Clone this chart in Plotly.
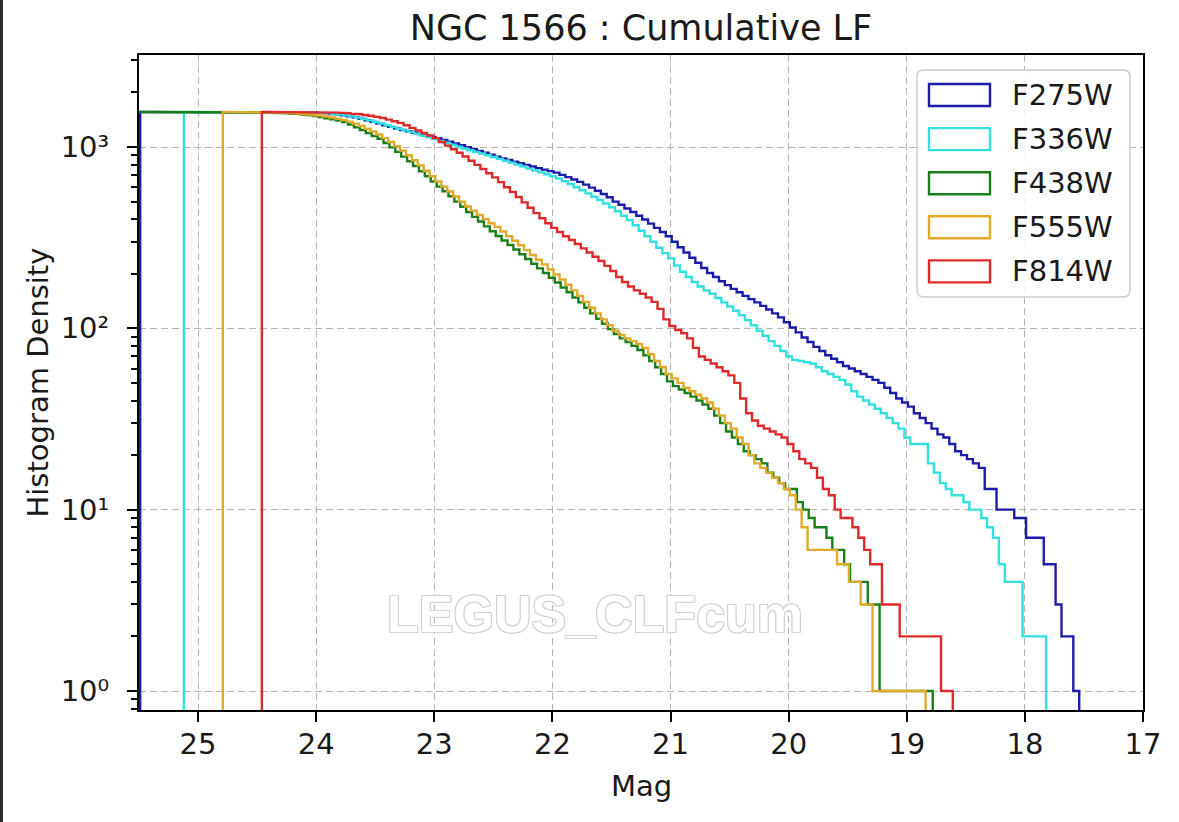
import numpy as np
import plotly.graph_objects as go

# ---------------------------------------------------------------------------
# Cumulative luminosity functions of the NGC 1566 cluster catalogue
# (cumulative counts per 0.05-mag bin, faint -> bright)
# ---------------------------------------------------------------------------
FILTERS = ["F275W", "F336W", "F438W", "F555W", "F814W"]

# faint and bright histogram edges (mag) for each filter
FAINT_EDGE = [25.49, 25.12, 25.53, 24.79, 24.46]
BRIGHT_EDGE = [17.54, 17.82, 18.78, 18.84, 18.61]

F275W_COUNTS = [
    1560, 1560, 1560, 1560, 1560, 1560, 1560, 1560, 1560, 1560,
    1560, 1560, 1560, 1560, 1559, 1559, 1559, 1558, 1558, 1558,
    1557, 1557, 1556, 1556, 1555, 1554, 1553, 1552, 1550, 1548,
    1543, 1535, 1525, 1512, 1496, 1478, 1456, 1432, 1405, 1376,
    1346, 1318, 1292, 1266, 1242, 1219, 1198, 1178, 1158, 1138,
    1117, 1094, 1070, 1046, 1022, 998, 974, 951, 929, 907,
    885, 866, 848, 831, 814, 797, 781, 765, 750, 736,
    722, 702, 682, 662, 642, 620, 597, 574, 551, 528,
    500, 480, 458, 438, 418, 398, 378, 358, 340, 322,
    300, 280, 262, 245, 230, 215, 202, 192, 182, 173,
    165, 158, 151, 145, 139, 133, 127, 121, 115, 108,
    101, 95, 89, 84, 79, 75, 71, 68, 65, 62,
    60, 58, 56, 54, 52, 50, 47, 44, 41, 39,
    37, 34, 32, 30, 28, 26, 25, 23, 21, 20,
    19, 18, 17, 13, 13, 10, 10, 10, 9, 9,
    7, 7, 7, 5, 5, 3, 2, 2, 1,
]

F336W_COUNTS = [
    1560, 1560, 1560, 1560, 1560, 1560, 1560, 1560, 1560, 1560,
    1560, 1560, 1559, 1559, 1558, 1558, 1557, 1556, 1555, 1554,
    1552, 1550, 1547, 1542, 1535, 1525, 1512, 1495, 1475, 1452,
    1428, 1402, 1375, 1347, 1318, 1290, 1262, 1235, 1208, 1183,
    1155, 1130, 1105, 1080, 1055, 1030, 1005, 982, 960, 940,
    920, 900, 880, 860, 840, 820, 800, 780, 760, 742,
    725, 708, 690, 670, 648, 625, 600, 578, 555, 532,
    510, 488, 465, 442, 418, 395, 370, 345, 322, 300,
    278, 260, 243, 222, 205, 192, 180, 170, 162, 155,
    147, 139, 132, 125, 118, 111, 104, 97, 91, 85,
    80, 75, 70, 67, 66, 65, 64, 61, 58, 56,
    54, 52, 49, 45, 42, 40, 38, 36, 34, 32,
    30, 28, 25, 23, 23, 23, 18, 16, 14, 13,
    12, 12, 11, 10, 10, 9, 8, 7, 5, 4,
    4, 4, 2, 2, 2, 2,
]

F438W_COUNTS = [
    1560, 1560,
    1560, 1560, 1560, 1560, 1560, 1560, 1560, 1560, 1560, 1560,
    1560, 1560, 1559, 1559, 1558, 1557, 1556, 1555, 1553, 1551,
    1548, 1545, 1540, 1534, 1527, 1518, 1507, 1494, 1480, 1463,
    1442, 1420, 1398, 1375, 1330, 1285, 1240, 1195, 1150, 1110,
    1052, 995, 940, 885, 835, 785, 735, 690, 645, 605,
    570, 535, 500, 468, 438, 412, 388, 365, 343, 323,
    305, 288, 272, 256, 241, 227, 214, 202, 190, 179,
    168, 158, 148, 139, 130, 121, 113, 106, 99, 93,
    88, 84, 80, 76, 71, 66, 61, 56, 51, 48,
    46, 44, 42, 40, 38, 36, 33, 30, 27, 25,
    23, 21, 20, 19, 18, 16, 15, 14, 13, 13,
    11, 10, 9, 8, 8, 7, 6, 6, 5, 4,
    4, 4, 3, 3, 1, 1, 1, 1, 1, 1,
    1, 1, 1,
]

F555W_COUNTS = [
    1560, 1560, 1559, 1559, 1558, 1557, 1555, 1553, 1550, 1547,
    1542, 1536, 1529, 1521, 1512, 1501, 1488, 1472, 1455, 1433,
    1410, 1380, 1345, 1305, 1262, 1218, 1172, 1120, 1065, 1010,
    955, 900, 845, 792, 740, 690, 645, 605, 568, 533,
    500, 470, 445, 422, 400, 380, 362, 342, 322, 304,
    287, 270, 254, 239, 225, 211, 198, 186, 174, 162,
    151, 140, 130, 121, 112, 104, 97, 92, 88, 85,
    82, 78, 72, 66, 61, 56, 53, 50, 47, 45,
    43, 41, 39, 36, 33, 30, 28, 25, 23, 20,
    18, 17, 16, 15, 14, 13, 12, 10, 8, 6,
    6, 6, 6, 6, 5, 5, 4, 4, 3, 3,
    1, 1, 1, 1, 1, 1, 1, 1, 1,
]

F814W_COUNTS = [
    1560, 1560, 1560, 1560, 1559, 1559, 1558, 1557, 1556, 1554,
    1553, 1551, 1548, 1544, 1537, 1528, 1516, 1502, 1486, 1466,
    1444, 1415, 1387, 1359, 1317, 1275, 1234, 1195, 1157, 1120,
    1065, 1018, 972, 929, 886, 840, 797, 756, 717, 680,
    640, 600, 565, 530, 495, 462, 432, 405, 380, 358,
    340, 322, 307, 292, 276, 262, 248, 235, 221, 207,
    192, 180, 170, 162, 155, 148, 140, 128, 112, 103,
    98, 94, 88, 78, 70, 67, 64, 61, 58, 55,
    50, 41, 34, 31, 29, 28, 27, 26, 25, 23,
    21, 19, 18, 17, 15, 13, 12, 10, 9, 9,
    8, 7, 6, 5, 5, 3, 3, 3, 2, 2,
    2, 2, 2, 2, 2, 1, 1,
]

COUNTS = [F275W_COUNTS, F336W_COUNTS, F438W_COUNTS, F555W_COUNTS, F814W_COUNTS]

X_TICKS = [25, 24, 23, 22, 21, 20, 19, 18, 17]
Y_TICKS = [1, 10, 100, 1000]
Y_TICK_TEXT = ["10\u2070", "10\u00b9", "10\u00b2", "10\u00b3"]

COLORS = ["#1c1cab", "#33e0e0", "#1a7f1a", "#e0aa2a", "#dd2a2a"]

# ---------------------------------------------------------------------------
W, H = 1179, 822
M_L, M_R, M_T, M_B = 139, 36, 55, 112
PW, PH = W - M_L - M_R, H - M_T - M_B
FONT = "DejaVu Sans"
INK = "#1a1a1a"


def px(x):
    return (x - M_L) / PW


def py(y):
    return (H - M_B - y) / PH


def outline_path(edges, counts, floor):
    """Step outline of a histogram (histtype='step'), zero -> floor on log axis."""
    xs, ys = [edges[0]], [floor]
    for i, c in enumerate(counts):
        xs += [edges[i], edges[i + 1]]
        ys += [c, c]
    xs.append(edges[-1])
    ys.append(floor)
    return xs, ys


fig = go.Figure()

for name, faint, bright, cnt, col in zip(FILTERS, FAINT_EDGE, BRIGHT_EDGE, COUNTS, COLORS):
    edges = np.linspace(faint, bright, len(cnt) + 1)
    xs, ys = outline_path(edges, cnt, 1e-2)
    fig.add_trace(go.Scatter(
        x=xs, y=ys, mode="lines", name=name,
        line=dict(color=col, width=2.4),
        hoverinfo="skip", showlegend=False,
    ))

minor_vals = [m * 10 ** k for k in range(-1, 4) for m in range(2, 10)]

fig.update_layout(
    width=W, height=H,
    margin=dict(l=M_L, r=M_R, t=M_T, b=M_B, pad=0),
    paper_bgcolor="white", plot_bgcolor="white",
    font=dict(family=FONT, color=INK, size=29),
    title=dict(
        text="NGC 1566 : Cumulative LF",
        font=dict(family=FONT, size=35, color=INK),
        x=0.5, xref="paper", xanchor="center",
        y=1 - 28 / H, yref="container", yanchor="middle",
    ),
    xaxis=dict(
        range=[25.5, 17], tickvals=X_TICKS, ticktext=[str(t) for t in X_TICKS],
        ticks="outside", ticklen=10, tickwidth=2, tickcolor="black",
        showline=True, linecolor="black", linewidth=2, mirror=True,
        showgrid=True, gridcolor="#b4b4b4", gridwidth=1.4, griddash="7px,4px",
        zeroline=False, tickfont=dict(size=29, family=FONT, color=INK),
        ticklabelstandoff=-3,
    ),
    yaxis=dict(
        type="log", range=[-0.1048, 3.5074],
        tickvals=Y_TICKS, ticktext=Y_TICK_TEXT,
        ticks="outside", ticklen=10, tickwidth=2, tickcolor="black",
        showline=True, linecolor="black", linewidth=2, mirror=True,
        showgrid=True, gridcolor="#b4b4b4", gridwidth=1.4, griddash="7px,4px",
        zeroline=False, tickfont=dict(size=29, family=FONT, color=INK),
        ticklabelstandoff=12,
        minor=dict(tickvals=minor_vals, ticks="outside", ticklen=6,
                   tickwidth=1.5, tickcolor="black", showgrid=False),
    ),
    showlegend=False,
)

OUTLINE = "#d2d2d2"
annotations = [
    dict(text="Mag", x=0.5, y=py(786), xref="paper", yref="paper",
         xanchor="center", yanchor="middle", showarrow=False,
         font=dict(family=FONT, size=29, color=INK)),
    dict(text="Histogram Density", x=px(37), y=0.5, xref="paper", yref="paper",
         xanchor="center", yanchor="middle", textangle=-90, showarrow=False,
         font=dict(family=FONT, size=29, color=INK)),
    dict(text="LEGUS_CLFcum", x=px(595), y=py(614), xref="paper", yref="paper",
         xanchor="center", yanchor="middle", showarrow=False,
         font=dict(family="Liberation Sans", size=52, color="white", weight="bold",
                   shadow=", ".join(f"{dx}px {dy}px {OUTLINE}" for dx, dy in
                                    [(1, 0), (-1, 0), (0, 1), (0, -1),
                                     (1, 1), (-1, -1), (1, -1), (-1, 1)]))),
]

# legend box with outlined patches
lx0, lx1, ly0, ly1, r = 917, 1130, 70, 297, 7
rx, ry = r / PW, r / PH
X0, X1, Y0, Y1 = px(lx0), px(lx1), py(ly0), py(ly1)
frame = (f"M {X0 + rx},{Y0} L {X1 - rx},{Y0} Q {X1},{Y0} {X1},{Y0 - ry} "
         f"L {X1},{Y1 + ry} Q {X1},{Y1} {X1 - rx},{Y1} "
         f"L {X0 + rx},{Y1} Q {X0},{Y1} {X0},{Y1 + ry} "
         f"L {X0},{Y0 - ry} Q {X0},{Y0} {X0 + rx},{Y0} Z")
shapes = [
    dict(type="path", path=frame, xref="paper", yref="paper",
         line=dict(color="#cccccc", width=1.5),
         fillcolor="rgba(255,255,255,0.85)", layer="above"),
    # dark frame edge along the left side of the figure
    dict(type="rect", xref="paper", yref="paper",
         x0=px(0), x1=px(3), y0=py(H), y1=py(0),
         line=dict(width=0), fillcolor="#2e2e2e", layer="above"),
]

for i, (name, col) in enumerate(zip(FILTERS, COLORS)):
    cy = 95 + 44.1 * i
    shapes.append(dict(type="rect", xref="paper", yref="paper",
                       x0=px(929), x1=px(990), y0=py(cy - 11), y1=py(cy + 11),
                       line=dict(color=col, width=2.4), fillcolor="white", layer="above"))
    annotations.append(dict(text=name, x=px(1010), y=py(cy), xref="paper", yref="paper",
                            xanchor="left", yanchor="middle", showarrow=False,
                            font=dict(family=FONT, size=29, color=INK)))

fig.update_layout(shapes=shapes, annotations=annotations)

fig.write_html("out.html")
